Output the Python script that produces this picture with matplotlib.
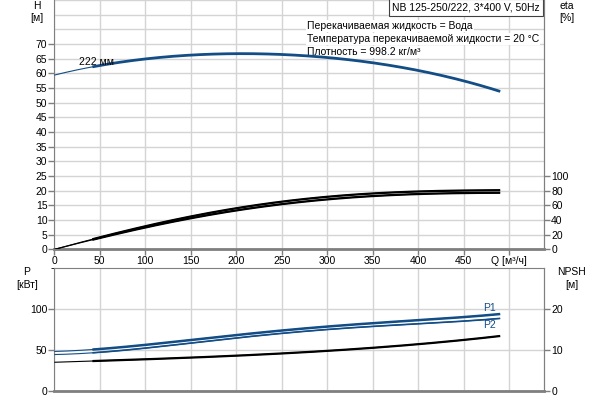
import matplotlib
matplotlib.use("Agg")
import matplotlib.pyplot as plt
import numpy as np

plt.rcParams['font.family'] = ['Liberation Sans', 'DejaVu Sans']

# Data
q = [0, 50, 100, 150, 200, 250, 300, 350, 400, 450, 490]
head = [59.4, 62.7, 64.8, 66.2, 66.8, 66.5, 65.4, 63.4, 60.9, 57.7, 53.7]
eta_pump = [0, 16, 31.5, 45, 56, 65, 71.5, 76, 79, 80.3, 80.5]
eta_total = [0, 15, 30, 42.5, 53, 61.5, 68, 72.5, 75.5, 76.8, 77]
p1 = [48.8, 51.2, 56.5, 62.6, 69.0, 74.8, 77.8, 82.9, 87.0, 91.0, 93.9]
p2 = [45.1, 47.0, 52.8, 58.5, 65.8, 71.5, 73.9, 78.8, 82.9, 86.1, 88.5]
npsh = [7.07, 7.46, 7.8, 8.2, 8.7, 9.2, 9.9, 10.6, 11.5, 12.5, 13.5]

x_ticks = [0, 50, 100, 150, 200, 250, 300, 350, 400, 450, 500]
x_labels = ['0', '50', '100', '150', '200', '250', '300', '350', '400', '450', 'Q [м³/ч]']
h_ticks = [0, 5, 10, 15, 20, 25, 30, 35, 40, 45, 50, 55, 60, 65, 70]
eta_ticks = [0, 20, 40, 60, 80, 100]
p_ticks = [0, 50, 100]
npsh_ticks = [0, 10, 20]

title_box = "NB 125-250/222, 3*400 V, 50Hz"
info_lines = ["Перекачиваемая жидкость = Вода",
              "Температура перекачиваемой жидкости = 20 °C",
              "Плотность = 998.2 кг/м³"]
curve_label = "222 мм"

blue = "#134d86"
grid_c = "#d4d4d4"
spine_c = "#7f7f7f"
fs = 7.5

qs = np.linspace(0, q[-1], 200)
def interp(y):
    c = np.polyfit(q, y, 4)
    return np.polyval(c, qs)

fig = plt.figure(figsize=(6, 4), dpi=100)
ax = fig.add_axes([54.3/600, 1-249.3/400, 490/600, 249.3/400])
ax2 = ax.twinx()
bx = fig.add_axes([54.3/600, 1-391.3/400, 490/600, 123/400])
bx2 = bx.twinx()

xmax = 538.5
for a in (ax, bx):
    a.set_xlim(0, xmax)
    a.set_xticks(x_ticks)
    a.grid(True, color=grid_c, lw=1)
    a.set_axisbelow(True)
    for s in a.spines.values():
        s.set_color(spine_c)
    a.spines['top'].set_visible(False)

ax.set_ylim(0, 85)
ax.set_yticks(h_ticks)
ax.set_yticks(np.arange(0, 86, 5), minor=True)
ax.grid(True, which='minor', axis='y', color=grid_c, lw=1)
ax.tick_params(axis='y', which='minor', length=0)
ax.set_xticklabels(x_labels, fontsize=fs)
ax.tick_params(axis='both', labelsize=fs, length=4, width=1, color=spine_c, pad=1)
ax.spines['bottom'].set_linewidth(2)

ax2.set_ylim(0, 340)
ax2.set_yticks(eta_ticks)
ax2.tick_params(axis='y', labelsize=fs, length=4, width=1, color=spine_c, pad=1)
for s in ax2.spines.values():
    s.set_visible(False)
ax2.spines['right'].set_visible(True)
ax2.spines['right'].set_color(spine_c)

bx.set_ylim(0, 150)
bx.set_yticks(p_ticks)
bx.set_yticks([150], minor=True)
bx.set_xticklabels([])
bx.tick_params(axis='x', length=0)
bx.tick_params(axis='y', labelsize=fs, length=4, width=1, color=spine_c, pad=1)
bx.spines['top'].set_visible(True)
bx.spines['top'].set_color(spine_c)
bx.spines['bottom'].set_linewidth(2)
bx2.set_ylim(0, 30)
bx2.set_yticks(npsh_ticks)
bx2.tick_params(axis='y', labelsize=fs, length=4, width=1, color=spine_c, pad=1)
for s in bx2.spines.values():
    s.set_visible(False)
bx2.spines['right'].set_visible(True)
bx2.spines['right'].set_color(spine_c)

op = qs >= 40

def draw(a, y, color, lw):
    yy = interp(y)
    a.plot(qs, yy, color=color, lw=0.8, solid_capstyle='butt', zorder=3)
    a.plot(qs[op], yy[op], color=color, lw=lw, solid_capstyle='butt', zorder=3)

draw(ax, head, blue, 2.0)
draw(ax2, eta_pump, 'black', 1.6)
draw(ax2, eta_total, 'black', 1.6)
draw(bx, p1, blue, 1.8)
draw(bx, p2, blue, 1.2)
draw(bx2, npsh, 'black', 1.6)

ax.text(27, 62.3, curve_label, fontsize=fs, ha='left', va='bottom', zorder=4)
bx.text(q[-1] - 5, p1[-1] + 1.5, "P1", fontsize=fs, color=blue, ha='right', va='bottom')
bx.text(q[-1] - 5, p2[-1] - 1.5, "P2", fontsize=fs, color=blue, ha='right', va='top')

ax.text(392/600, 1-7.5/400, title_box, fontsize=fs, ha='left', va='center',
        transform=fig.transFigure, zorder=2.5, clip_on=False,
        bbox=dict(boxstyle='square,pad=0.3', fc='white', ec='#404040', lw=0.8))
for i, t in enumerate(info_lines):
    ax.text(307/600, 1-(26 + 13*i)/400, t, fontsize=fs, ha='left', va='center',
            transform=fig.transFigure, zorder=1.5,
            bbox=dict(boxstyle='square,pad=0.1', fc='white', ec='none'))

fig.text(37/600, 1-6/400, "H", fontsize=fs, ha='center', va='center')
fig.text(37/600, 1-18/400, "[м]", fontsize=fs, ha='center', va='center')
fig.text(567/600, 1-6/400, "eta", fontsize=fs, ha='center', va='center')
fig.text(567/600, 1-18/400, "[%]", fontsize=fs, ha='center', va='center')
fig.text(27/600, 1-272/400, "P", fontsize=fs, ha='center', va='center')
fig.text(27/600, 1-285/400, "[кВт]", fontsize=fs, ha='center', va='center')
fig.text(572/600, 1-272/400, "NPSH", fontsize=fs, ha='center', va='center')
fig.text(572/600, 1-285/400, "[м]", fontsize=fs, ha='center', va='center')

fig.savefig("out.png", dpi=100)
